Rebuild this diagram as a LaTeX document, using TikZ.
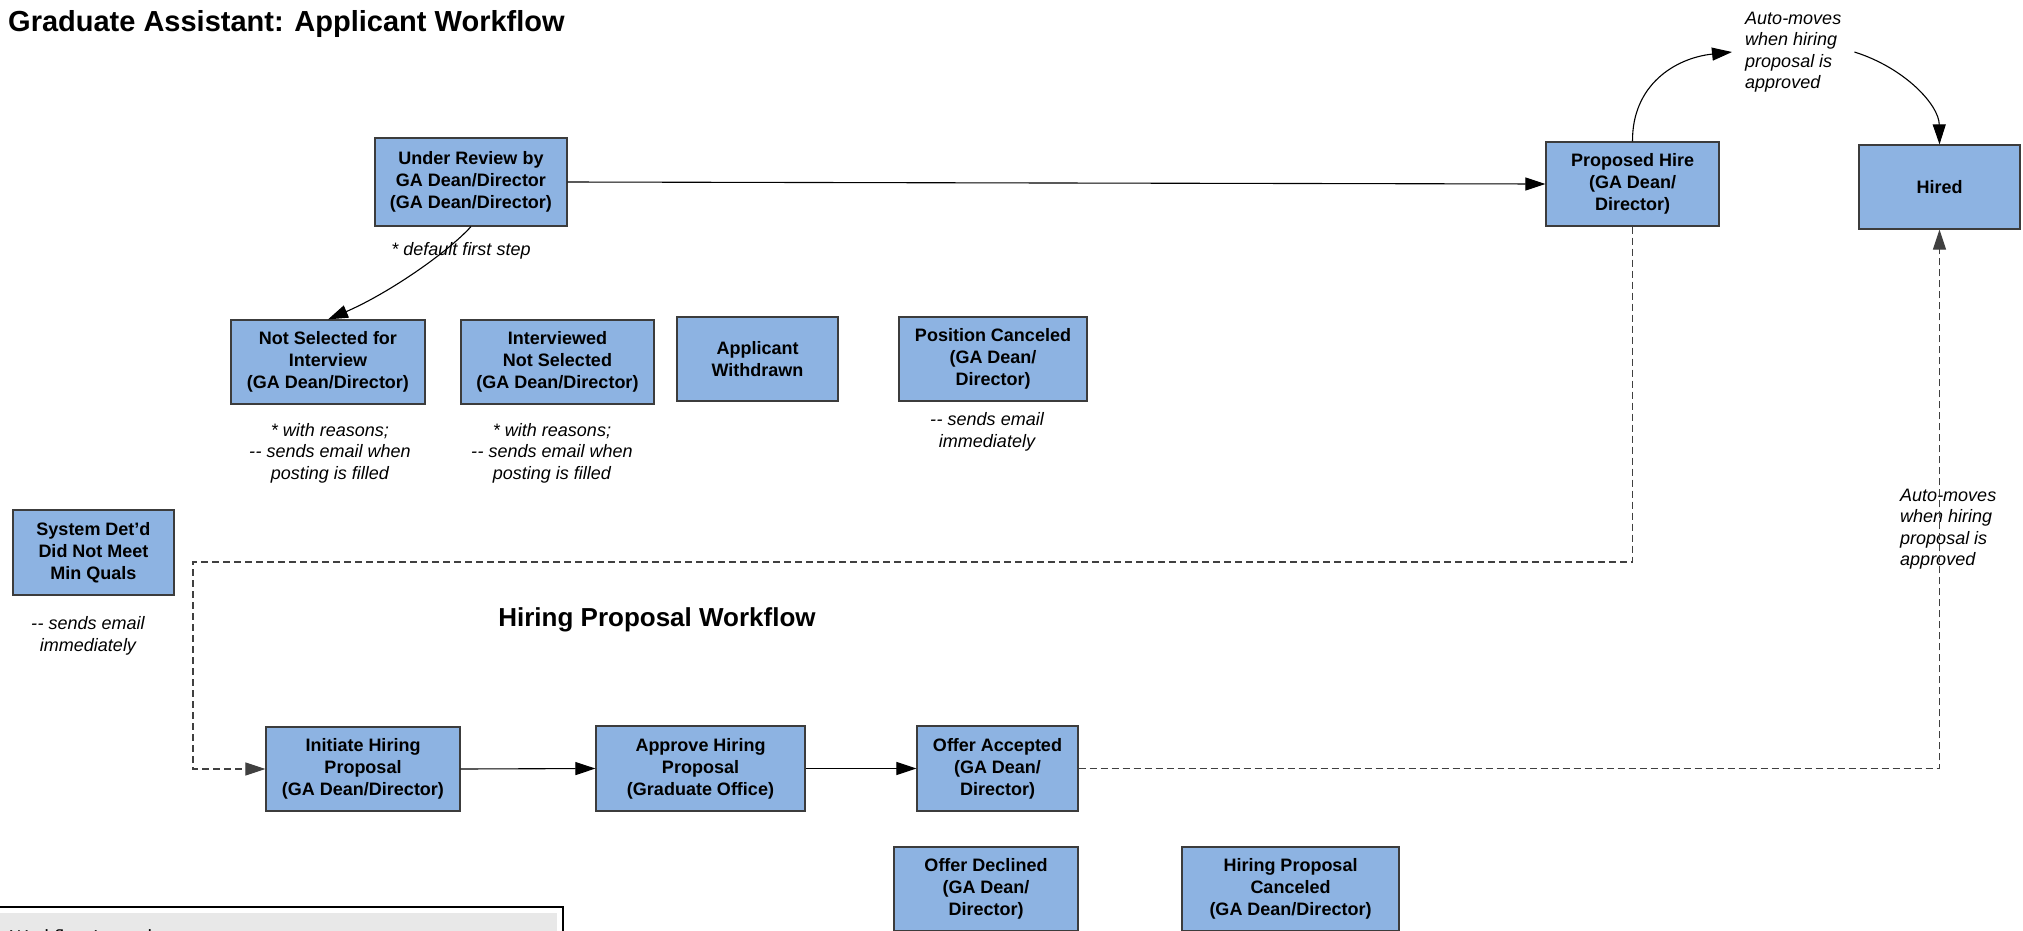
\documentclass[tikz,border=0pt]{standalone}
\usepackage{fontspec}
\setmainfont{Liberation Sans}
\newfontfamily\legendfont{Carlito}
\usetikzlibrary{arrows.meta}
\definecolor{boxblue}{HTML}{8DB3E2}
\definecolor{boxline}{HTML}{3C3C3C}
\definecolor{legendgray}{HTML}{E8E8E8}
\newcommand{\dd}{-\kern0.5pt-}
\begin{document}
\begin{tikzpicture}[x=1pt,y=-1pt,
  state/.style={draw=boxline, fill=boxblue, line width=1.2pt, align=center,
    font=\fontsize{18}{22}\selectfont\bfseries, inner sep=0pt},
  note/.style={align=center, font=\fontsize{18}{21.5}\selectfont\itshape, inner sep=0pt},
  arr/.style={draw=black, line width=1.1pt, -{Triangle[length=20pt,width=13pt]}},
  darr/.style={draw=black!75, line width=1.1pt, dash pattern=on 7pt off 4pt,
    -{Triangle[length=20pt,width=13pt]}}]
\clip (0,0) rectangle (2023,930);
\fill[white] (0,0) rectangle (2023,930);

% titles
\node[anchor=west, font=\fontsize{29}{34}\selectfont\bfseries, inner sep=0pt] (title) at (8,24) {Graduate Assistant: Applicant Workflow};
\node[font=\fontsize{26}{30}\selectfont\bfseries, inner sep=0pt] (hpw) at (657,620) {Hiring Proposal Workflow};

% applicant workflow states
\node[state, minimum width=192pt, minimum height=88pt] (ur) at (471,182) {Under Review by\\GA Dean/Director\\(GA Dean/Director)};
\node[state, minimum width=173pt, minimum height=84pt] (ph) at (1632.5,184) {Proposed Hire\\(GA Dean/\\Director)};
\node[state, minimum width=161pt, minimum height=84pt] (hired) at (1939.5,187) {Hired};
\node[state, minimum width=194pt, minimum height=84pt] (ns) at (328,362) {Not Selected for\\Interview\\(GA Dean/Director)};
\node[state, minimum width=193pt, minimum height=84pt] (ins) at (557.5,362) {Interviewed\\Not Selected\\(GA Dean/Director)};
\node[state, minimum width=161pt, minimum height=84pt] (aw) at (757.5,359) {Applicant\\Withdrawn};
\node[state, minimum width=188pt, minimum height=84pt] (pc) at (993,359) {Position Canceled\\(GA Dean/\\Director)};
\node[state, minimum width=161pt, minimum height=85pt] (sys) at (93.5,552.5) {System Det’d\\Did Not Meet\\Min Quals};

% hiring proposal states
\node[state, minimum width=194pt, minimum height=84pt] (ihp) at (363,769) {Initiate Hiring\\Proposal\\(GA Dean/Director)};
\node[state, minimum width=209pt, minimum height=85pt] (ahp) at (700.5,768.5) {Approve Hiring\\Proposal\\(Graduate Office)};
\node[state, minimum width=161pt, minimum height=85pt] (oa) at (997.5,768.5) {Offer Accepted\\(GA Dean/\\Director)};
\node[state, minimum width=184pt, minimum height=84pt] (od) at (986,889) {Offer Declined\\(GA Dean/\\Director)};
\node[state, minimum width=217pt, minimum height=84pt] (hpc) at (1290.5,889) {Hiring Proposal\\Canceled\\(GA Dean/Director)};

% notes
\node[note] (n0) at (461,251) {* default first step};
\node[note] (n1) at (330,453) {* with reasons;\\\dd{} sends email when\\posting is filled};
\node[note] (n2) at (552,453) {* with reasons;\\\dd{} sends email when\\posting is filled};
\node[note] (n3) at (987,432) {\dd{} sends email\\immediately};
\node[note] (n4) at (88,636) {\dd{} sends email\\immediately};
\node[note, align=left, anchor=west, inner xsep=13pt] (auto1) at (1732,52) {Auto-moves\\when hiring\\proposal is\\approved};
\node[note, align=left, anchor=west] (auto2) at (1900,529) {Auto-moves\\when hiring\\proposal is\\approved};

% connectors
\draw[arr] (ur.east) -- (ph.west);
\draw[arr] (ur.south) .. controls (445,255) and (385,295) .. (ns.north);
\draw[arr] (ph.north) .. controls (1632,85) and (1675,58) .. (auto1.west);
\draw[arr] (auto1.east) .. controls (1905,68) and (1939,105) .. (hired.north);
\coordinate (c1) at (193,562);
\draw[darr] (ph.south) |- (c1) |- (ihp.west);
\draw[arr] (ihp.east) -- (ahp.west);
\draw[arr] (ahp.east) -- (oa.west);
\draw[darr] (oa.east) -| (hired.south);

% legend (clipped at bottom, as in the source)
\draw[line width=2pt] (-5,907) rectangle (563,980);
\fill[legendgray] (0,913) rectangle (557,980);
\node[anchor=base west, font=\legendfont\fontsize{20}{24}\selectfont, inner sep=0pt] (leg) at (10,943) {Workflow Legend};
\end{tikzpicture}
\end{document}
